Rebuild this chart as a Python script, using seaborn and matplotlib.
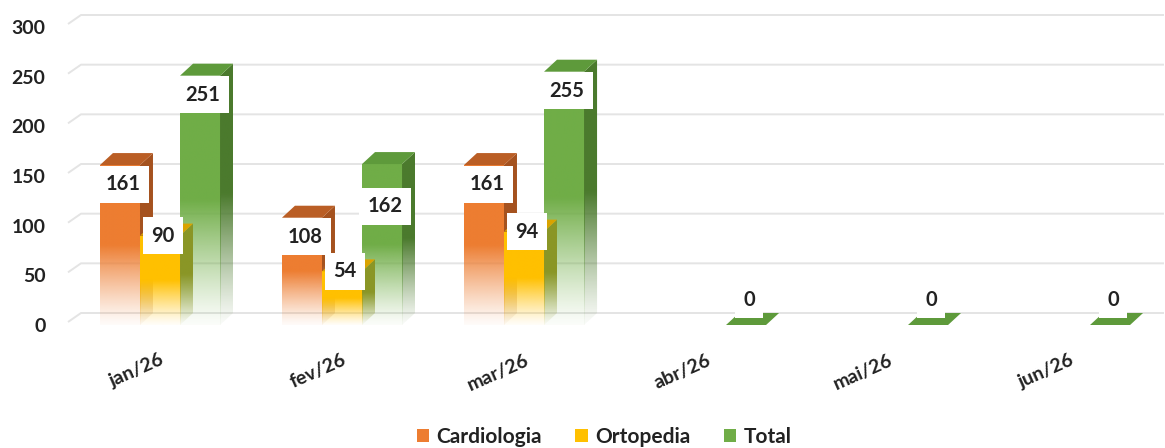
import numpy as np
import pandas as pd
import matplotlib
matplotlib.use("Agg")
import matplotlib.pyplot as plt
from matplotlib.patches import Polygon, Patch
from matplotlib.colors import to_rgb, to_rgba
import seaborn as sns

# ---- data -------------------------------------------------------------
meses = ["jan/26", "fev/26", "mar/26", "abr/26", "mai/26", "jun/26"]
cardiologia = [161, 108, 161, np.nan, np.nan, np.nan]
ortopedia = [90, 54, 94, np.nan, np.nan, np.nan]
total = [251, 162, 255, 0, 0, 0]
series = ["Cardiologia", "Ortopedia", "Total"]
yticks = [0, 50, 100, 150, 200, 250, 300]

# ---- style ------------------------------------------------------------
front_col = {"Cardiologia": "#ED7D31", "Ortopedia": "#FFC000", "Total": "#70AD47"}
side_col = {"Cardiologia": "#A5521F", "Ortopedia": "#8A9626", "Total": "#4B7A2D"}
top_col = {"Cardiologia": "#BA5E25", "Ortopedia": "#D9A300", "Total": "#5E9A3B"}
layer = {"Cardiologia": 2, "Total": 3, "Ortopedia": 4}
text_col = "#222222"
# extra vertical shift (px, downwards) for individual value labels
label_nudge_px = {("fev/26", "Total"): 23}

sns.set_theme(style="white")
plt.rcParams["font.family"] = ["Lato", "DejaVu Sans"]
plt.rcParams["font.weight"] = "bold"

W, H = 1165, 448
fig = plt.figure(figsize=(W / 100, H / 100), dpi=100)
ax_left, ax_right = 69, 1161
y0_px, ytop_px = 325, 27
ax = fig.add_axes([ax_left / W, (H - y0_px) / H,
                   (ax_right - ax_left) / W, (y0_px - ytop_px) / H])

rows = []
for s, vals in zip(series, [cardiologia, ortopedia, total]):
    for m, v in zip(meses, vals):
        rows.append({"mes": m, "serie": s, "valor": v})
df = pd.DataFrame(rows).dropna()

sns.barplot(data=df, x="mes", y="valor", hue="serie", order=meses,
            hue_order=series, palette=front_col, width=0.66, saturation=1,
            errorbar=None, legend=False, ax=ax)

ax.set_xlim(-0.5, 5.5)
ax.set_ylim(0, 300)
px_x = (ax_right - ax_left) / 6.0
px_y = (y0_px - ytop_px) / 300.0
DX = 13 / px_x          # depth offset of the 3-D boxes
DY = 12 / px_y


def fade(color, n=256, solid_from=0.5, floor=0.03):
    t = np.linspace(0, 1, n)
    a = np.clip(floor + (1 - floor) * (t / solid_from) ** 1.2, 0, 1)
    img = np.zeros((n, 1, 4))
    img[:, 0, :3] = to_rgb(color)
    img[:, 0, 3] = a
    return img


def gradient_fill(clip_patch, x0, x1, y0, y1, color, z):
    im = ax.imshow(fade(color), extent=[x0, x1, y0, y1], origin="lower",
                   aspect="auto", interpolation="bilinear", zorder=z)
    im.set_clip_path(clip_patch)


# gridlines on the back wall
for val in yticks:
    yb = val + DY
    ax.plot([(68 - ax_left) / px_x - 0.5, (81 - ax_left) / px_x - 0.5,
             (1164 - ax_left) / px_x - 0.5],
            [yb - 9 / px_y, yb, yb], color="#E4E4E4", lw=1.4,
            clip_on=False, zorder=0.5, solid_capstyle="butt")

bars = []
for p in list(ax.patches):
    fc = p.get_facecolor()
    s = next(k for k in series if np.allclose(fc, to_rgba(front_col[k])))
    bars.append((p, s))

for p, s in bars:
    x0, w, h = p.get_x(), p.get_width(), p.get_height()
    x1 = x0 + w
    z = layer[s]
    p.set_facecolor("none")
    p.set_edgecolor("none")
    if h > 0:
        gradient_fill(p, x0, x1, 0, h, front_col[s], z)
        side = Polygon([(x1, 0), (x1 + DX, DY), (x1 + DX, h + DY), (x1, h)],
                       closed=True, fc="none", ec="none")
        ax.add_patch(side)
        gradient_fill(side, x1, x1 + DX, 0, h + DY, side_col[s], z + 0.1)
    topf = Polygon([(x0, h), (x1, h), (x1 + DX, h + DY), (x0 + DX, h + DY)],
                   closed=True, fc=top_col[s], ec="none", zorder=z + 0.2,
                   clip_on=False)
    ax.add_patch(topf)

    m = meses[int(round(x0 + w / 2))]
    if h == 0:
        ly = h + 25 / px_y
    elif s == "Ortopedia":
        ly = h
    else:
        ly = h - 19 / px_y
    ly -= label_nudge_px.get((m, s), 0) / px_y
    ax.text(x0 + w / 2 + 3 / px_x, ly, f"{h:.0f}", ha="center", va="center",
            fontsize=14.5, fontweight="bold", color=text_col, zorder=20,
            bbox=dict(boxstyle="square,pad=0.42", fc="white", ec="none"))

ax.set_xlim(-0.5, 5.5)
ax.set_ylim(0, 300)
ax.set_yticks(yticks)
ax.set_yticklabels([str(v) for v in yticks], fontweight="bold")
ax.set_xticks(range(len(meses)))
ax.set_xticklabels(meses, fontweight="bold")
ax.tick_params(axis="y", length=0, pad=17, labelsize=14, labelcolor=text_col)
ax.tick_params(axis="x", length=0, pad=19, labelsize=14, labelcolor=text_col)
for lab in ax.get_xticklabels():
    lab.set_rotation(24)
    lab.set_ha("right")
    lab.set_rotation_mode("anchor")
ax.set_xlabel("")
ax.set_ylabel("")
ax.grid(False)
sns.despine(ax=ax, left=True, bottom=True)

handles = [Patch(facecolor=front_col[s], edgecolor="none") for s in series]
fig.legend(handles, series, loc="center", bbox_to_anchor=(604 / W, 1 - 437 / H),
           ncol=3, frameon=False, prop=dict(size=15, weight="bold"),
           handlelength=0.6, handleheight=0.6, handletextpad=0.35,
           columnspacing=1.6, labelcolor=text_col)

fig.savefig("out.png", dpi=100, facecolor="white")
